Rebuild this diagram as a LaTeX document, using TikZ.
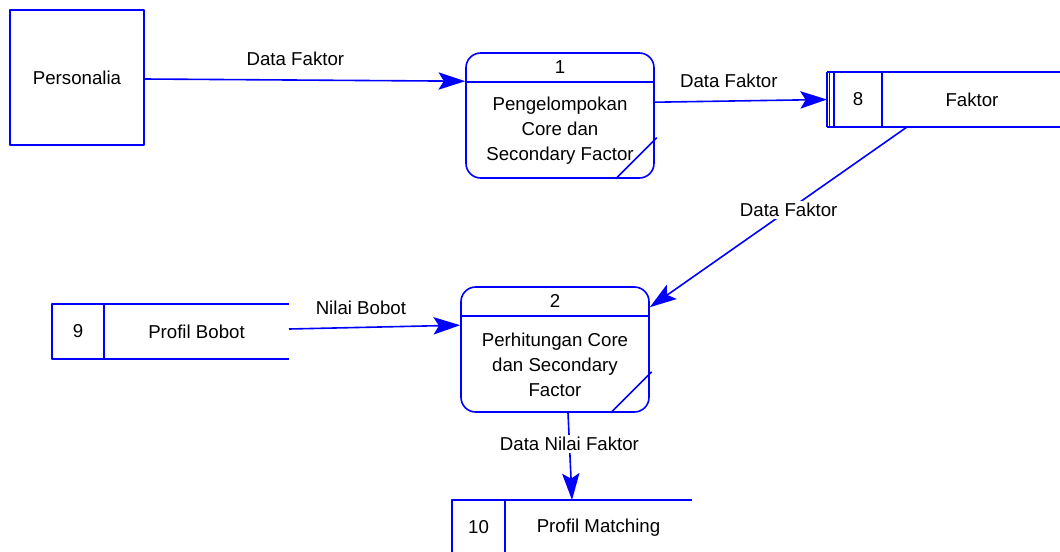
\documentclass[tikz,border=0pt]{standalone}
\usepackage{fontspec}
\setmainfont{Liberation Sans}
\usetikzlibrary{arrows.meta,calc,positioning}
\definecolor{ln}{RGB}{0,0,255}
\definecolor{bg}{RGB}{255,255,255}
\tikzset{
  every picture/.style={ln, line width=1.2pt, line join=round,
    >={Stealth[length=20pt,width=13pt,inset=4pt]}},
  every node/.style={text=black, font=\fontsize{14}{18.75}\selectfont},
  % Elemente
  entity/.style={draw, minimum width=100.5pt, minimum height=101.25pt, inner sep=0pt},
  proc/.style={draw, rounded corners=11pt, minimum width=141pt, minimum height=93.75pt, inner sep=0pt},
  cell/.style={draw, minimum height=41.25pt, inner sep=0pt, outer sep=0pt},
  sname/.style={minimum height=41.25pt, inner sep=0pt, outer sep=0pt},
  % Datenflüsse
  flow/.style={->},
  lbl/.style={fill=bg, inner sep=1.5pt},
}

\begin{document}
\begin{tikzpicture}[x=0.75pt, y=-0.75pt]
  \fill[bg] (0,0) rectangle (1060,551);
  \useasboundingbox (0,0) rectangle (1060,551);
  % Entität
  \node[entity] (pers) at (77,77.5) {Personalia};
  % Prozesse
  \node[proc] (p1) at (560,115.5) {};
  \node[proc] (p2) at (555,349.5) {};
  \foreach \p/\n in {p1/1, p2/2} {
    \draw ($(\p.north west)+(0,30)$) -- ($(\p.north east)+(0,30)$);
    \node (\p n) at ($(\p.north)+(0,15)$) {\n};
    \draw ($(\p.south east)+(-39,0)$) -- ($(\p.south east)+(2,-41)$);
  }
  \node[align=center] (p1t) at ($(p1.center)+(0,15)$) {Pengelompokan\\Core dan\\Secondary Factor};
  \node[align=center] (p2t) at ($(p2.center)+(0,15.5)$) {Perhitungan Core\\dan Secondary\\Factor};
  % Datenspeicher
  \node[cell, minimum width=36pt] (s8) at (858,99.5) {8};
  \node[sname, minimum width=135pt, right=0pt of s8] (faktor) {Faktor};
  \draw ($(s8.north west)+(-7,0)$) -- (s8.north west) ($(s8.south west)+(-7,0)$) -- (s8.south west);
  \draw ($(s8.north west)+(-7,0)$) -- ($(s8.south west)+(-7,0)$)
        ($(s8.north west)+(-4.5,0)$) -- ($(s8.south west)+(-4.5,0)$);
  \node[cell, minimum width=39pt] (s9) at (78,331.5) {9};
  \node[sname, minimum width=138.75pt, right=0pt of s9] (bobot) {Profil Bobot};
  \node[cell, minimum width=39.75pt] (s10) at (478.5,527.5) {10};
  \node[sname, minimum width=140.25pt, right=0pt of s10] (match) {Profil Matching};
  \foreach \s in {faktor, bobot, match}
    \draw (\s.north west) -- (\s.north east) (\s.south west) -- (\s.south east);
  % Datenflüsse
  \draw[flow] ($(pers.east)+(0,1.5)$) -- ($(p1.north west)+(0,29)$)
    node[pos=0.47, above=7pt] (f1) {Data Faktor};
  \draw[flow] ($(p1.north east)+(0,50)$) -- ($(s8.west)+(-7,0)$)
    node[pos=0.43, above=6pt] (f2) {Data Faktor};
  \draw[flow] ($(faktor.south west)+(25,0)$) -- ($(p2.north east)+(0,21)$)
    node[pos=0.46, lbl] (f3) {Data Faktor};
  \draw[flow] ($(bobot.east)+(0,-2.5)$) -- ($(p2.north west)+(0,39)$)
    node[pos=0.42, above=5.5pt] (f4) {Nilai Bobot};
  \draw[flow] ($(p2.south)+(13,0)$) -- ($(match.north west)+(67,0)$)
    node[pos=0.36, lbl] (f5) {Data Nilai Faktor};
\end{tikzpicture}
\end{document}
